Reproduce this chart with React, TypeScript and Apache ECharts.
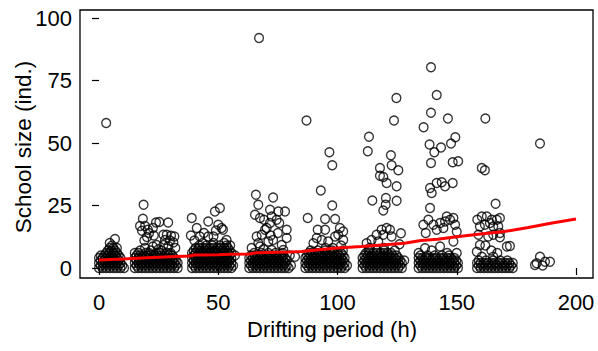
import React, { useEffect, useRef } from "react";
import * as echarts from "echarts";

// x: drifting period (h), y: school size (ind.)
// Dense low-value groups, stored as rows: [schoolSize, period1, period2, ...]
const rowsA: number[][] = [
  [0, 0, 1.5, 3, 4.5, 6, 7.5, 9, 10.5],
  [1, 0.75, 2.25, 3.75, 5.25, 6.75, 8.25, 9.75],
  [2, 0, 1.5, 3, 4.5, 6, 7.5, 9],
  [3, 0.75, 2.25, 3.75, 5.25, 6.75, 8.25],
  [4, 0, 1.5, 3, 4.5, 6, 7.5, 9],
  [5, 0.75, 2.25, 3.75, 5.25, 6.75, 8.25],
  [6, 3, 4.5, 6, 7.5],
  [7, 3.75, 5.25, 6.75],
  [8, 4.5, 6, 7.5],
  [9, 5.5],
  [10, 4.5],
];
const rowsB: number[][] = [
  [0, 15, 16.5, 18, 19.5, 21, 22.5, 24, 25.5, 27, 28.5, 30, 31.5, 33],
  [1, 15.75, 17.25, 18.75, 20.25, 21.75, 23.25, 24.75, 26.25, 27.75, 29.25, 30.75, 32.25],
  [2, 15, 16.5, 18, 19.5, 21, 22.5, 24, 25.5, 27, 28.5, 30, 31.5, 33],
  [3, 15.75, 17.25, 18.75, 20.25, 21.75, 23.25, 24.75, 26.25, 27.75, 29.25, 30.75, 32.25],
  [4, 15, 16.5, 18, 19.5, 21, 22.5, 24, 25.5, 27, 28.5, 30, 31.5],
  [5, 15.75, 17.25, 18.75, 20.25, 21.75, 23.25, 24.75, 26.25, 27.75, 29.25, 30.75],
  [6, 15, 16.5, 19.5, 21, 24, 25.5, 28.5, 30],
  [7, 17.25, 21.75, 26.25],
];
const rowsC: number[][] = [
  [0, 39, 40.5, 42, 43.5, 45, 46.5, 48, 49.5, 51, 52.5, 54, 55.5],
  [1, 39.75, 41.25, 42.75, 44.25, 45.75, 47.25, 48.75, 50.25, 51.75, 53.25, 54.75, 56.25],
  [2, 39, 40.5, 42, 43.5, 45, 46.5, 48, 49.5, 51, 52.5, 54, 55.5],
  [3, 39.75, 41.25, 42.75, 44.25, 45.75, 47.25, 48.75, 50.25, 51.75, 53.25, 54.75],
  [4, 39, 40.5, 42, 43.5, 45, 46.5, 48, 49.5, 51, 52.5, 54, 55.5],
  [5, 39.75, 41.25, 42.75, 44.25, 45.75, 47.25, 48.75, 50.25, 51.75, 53.25, 54.75, 57],
  [6, 39, 40.5, 42, 43.5, 45, 46.5, 48, 49.5, 51, 52.5, 54, 55.5],
  [7, 39.75, 41.25, 42.75, 44.25, 45.75, 47.25, 48.75, 50.25, 51.75, 53.25, 54.75],
  [8, 40.5, 42, 43.5, 45, 46.5, 48, 49.5, 51, 52.5, 54],
  [9, 42, 45, 47.5, 50.5, 53.5, 55],
  [10, 43.5, 48, 52.5],
];
const rowsD: number[][] = [
  [0, 63, 64.5, 66, 67.5, 69, 70.5, 72, 73.5, 75, 76.5, 78, 79.5],
  [1, 63.75, 65.25, 66.75, 68.25, 69.75, 71.25, 72.75, 74.25, 75.75, 77.25, 78.75, 80.5],
  [2, 63, 64.5, 66, 67.5, 69, 70.5, 72, 73.5, 75, 76.5, 78],
  [3, 63.75, 65.25, 66.75, 68.25, 69.75, 71.25, 72.75, 74.25, 75.75, 77.25, 78.75],
  [4, 63, 64.5, 66, 67.5, 69, 70.5, 72, 73.5, 75, 76.5, 78],
  [5, 63.75, 65.25, 66.75, 68.25, 69.75, 71.25, 72.75, 74.25, 75.75, 77.25, 80],
  [6, 65, 68, 71, 74, 77],
];
const rowsE: number[][] = [
  [0, 86.5, 88, 89.5, 91, 92.5, 94, 95.5, 97, 98.5, 100, 101.5, 103],
  [1, 87.25, 88.75, 90.25, 91.75, 93.25, 94.75, 96.25, 97.75, 99.25, 100.75, 102.25, 104],
  [2, 86.5, 88, 89.5, 91, 92.5, 94, 95.5, 97, 98.5, 100, 101.5, 103],
  [3, 87.25, 88.75, 90.25, 91.75, 93.25, 94.75, 96.25, 97.75, 99.25, 100.75, 102.25],
  [4, 86.5, 88, 89.5, 91, 92.5, 94, 95.5, 97, 98.5, 100, 101.5, 103],
  [5, 87.25, 88.75, 90.25, 91.75, 93.25, 94.75, 96.25, 97.75, 99.25, 100.75, 102.25],
  [6, 88, 89.5, 91, 92.5, 94, 95.5, 97, 98.5, 100, 101.5],
  [7, 88.75, 91.75, 94.75, 97.75, 102.25],
  [8, 95, 98],
];
const rowsF: number[][] = [
  [0, 110.5, 112, 113.5, 115, 116.5, 118, 119.5, 121, 122.5, 124, 125.5, 127],
  [1, 111.25, 112.75, 114.25, 115.75, 117.25, 118.75, 120.25, 121.75, 123.25, 124.75, 126.25],
  [2, 110.5, 112, 113.5, 115, 116.5, 118, 119.5, 121, 122.5, 124, 125.5, 127],
  [3, 111.25, 112.75, 114.25, 115.75, 117.25, 118.75, 120.25, 121.75, 123.25, 124.75, 126.25, 128],
  [4, 110.5, 112, 113.5, 115, 116.5, 118, 119.5, 121, 122.5, 124, 125.5],
  [5, 111.25, 112.75, 114.25, 115.75, 117.25, 118.75, 120.25, 121.75, 123.25, 124.75],
  [6, 112, 113.5, 115, 116.5, 118, 119.5, 121, 122.5],
  [7, 113, 116.5, 119.5, 124],
  [8, 113.5, 119.5],
];
const rowsG: number[][] = [
  [0, 134, 135.5, 137, 138.5, 140, 141.5, 143, 144.5, 146, 147.5, 149, 150.5],
  [1, 134.75, 136.25, 137.75, 139.25, 140.75, 142.25, 143.75, 145.25, 146.75, 148.25, 149.75],
  [2, 134, 135.5, 137, 138.5, 140, 141.5, 143, 144.5, 146, 147.5, 149, 150.5],
  [3, 134.75, 136.25, 137.75, 139.25, 140.75, 142.25, 143.75, 145.25, 146.75, 148.25, 149.75],
  [4, 134, 135.5, 137, 138.5, 140, 141.5, 143, 144.5, 146, 147.5, 149],
  [5, 134.75, 137.75, 140.75, 143.75, 146.75],
  [6, 134, 146, 150],
  [7, 139.5],
];
const rowsH: number[][] = [
  [0, 158.5, 160, 161.5, 163, 164.5, 166, 167.5, 169, 170.5, 172, 173.5],
  [1, 159.25, 160.75, 162.25, 163.75, 165.25, 166.75, 168.25, 169.75, 171.25, 172.75],
  [2, 158.5, 160, 161.5, 163, 164.5, 166, 167.5, 169, 170.5, 172, 173.5],
  [3, 159.25, 162.25, 165.25, 168.25, 171.25],
];

// Scattered (higher) values, stored as [period, schoolSize]
const upperA: number[][] = [[6.7, 11.6], [3, 58]];
const upperB: number[][] = [
  [18.7, 25.3], [18.4, 19.7], [23.9, 18.2], [25.3, 18.4], [29, 18.2], [17.2, 16.8], [19.3, 16.8],
  [18, 14.9], [20.5, 15.3], [22.6, 16], [20.1, 12.4], [21, 14], [23, 13], [19, 11], [27, 13.3],
  [28.4, 13.3], [30.2, 12.9], [31.6, 12.6], [27.7, 11.2], [29.8, 11], [31.2, 10.2], [27, 9.2],
  [29.1, 8.8], [22.6, 8.6], [24.2, 9.2], [19.3, 8], [25, 7.5], [32, 8],
];
const upperC: number[][] = [
  [38.9, 20], [41, 16], [45.8, 18.6], [48.6, 22.6], [50.7, 24], [50, 17.3], [51.4, 16], [52, 15.3],
  [45.8, 12.6], [48, 12.6], [53.5, 11.2], [42.3, 12.6], [44, 14], [38.5, 13], [40, 11], [49, 15],
];
const upperD: number[][] = [
  [67.1, 92], [65.8, 29.3], [73, 28.2], [66.8, 25.3], [71.7, 23.3], [75.2, 22.6], [78, 22.6],
  [65.4, 21.3], [67.5, 20], [69.2, 19.3], [72.4, 20.6], [74.5, 19.3], [71.7, 18], [75.6, 18],
  [70.3, 16], [69.6, 15.3], [78.7, 15.3], [75, 14], [72, 13], [66.1, 12.6], [68.2, 13.3],
  [78.7, 12], [66.8, 9.9], [67.5, 8.6], [71, 10.6], [73, 11.2], [76.6, 9.2], [77.3, 7.2],
  [72.4, 7.2], [64, 8], [69, 7.5],
];
const upperE: number[][] = [
  [87, 59], [96.6, 46.3], [97.8, 41.1], [93, 31], [97.8, 25], [87.5, 20], [94.8, 19.6], [99, 19.6],
  [91.7, 15.3], [94.8, 15.3], [101, 16], [102.4, 14.6], [100.3, 13.3], [102.4, 11.2], [99, 12.6],
  [91.3, 12], [93.4, 11.2], [96.1, 10.6], [89.9, 9.9], [101.5, 9], [82.2, 4.5],
];
const upperF: number[][] = [
  [113.2, 52.5], [112.7, 46.7], [123.7, 59], [124.7, 68], [122.4, 45.1], [122.7, 41.1], [125.5, 39.1],
  [117.8, 40], [117.8, 36.9], [119.2, 36.4], [120.6, 34], [124.8, 32.7], [114.6, 27], [120.3, 28],
  [120.2, 25.3], [119.2, 23], [124.8, 26.9], [126.6, 13.9], [116.4, 13.3], [118.5, 15.3], [120.6, 16],
  [122, 15.3], [119.2, 13.3], [122.7, 12.6], [112.2, 9.9], [114.3, 11.2], [117.1, 10.6], [126, 9.5],
];
const upperG: number[][] = [
  [139.2, 80.3], [141.6, 69.2], [139.2, 62.1], [146.3, 59.8], [136.1, 56.3], [149.4, 52.3], [147.6, 49.8],
  [138.6, 49.4], [143.4, 48.2], [140.6, 46.3], [139.2, 42], [148.3, 42.3], [150.6, 42.7], [138.8, 32],
  [139.5, 30], [141.6, 34], [143.7, 34.3], [145.1, 32.7], [148.3, 34], [138.8, 24], [136, 17.3],
  [138.1, 19.3], [140.2, 17.3], [141.6, 15.3], [143, 18], [145.1, 18.6], [145.8, 20.6], [147.2, 19.3],
  [148.6, 20], [149.3, 17.3], [144.4, 16], [137, 14], [150, 14.5], [136.7, 7.9], [143, 8.6], [148.6, 10.6],
];
const upperH: number[][] = [
  [162, 59.8], [160.5, 40], [161.8, 39.1], [166.3, 25.7], [158.6, 19.3], [160.5, 20.6], [162.6, 20.6],
  [164.7, 19.3], [166.8, 19.3], [168.1, 20], [159.7, 16.6], [161.8, 17.3], [163.9, 18], [165.3, 16.6],
  [167.4, 16.6], [163.2, 12.6], [165.3, 13.3], [168.1, 14], [159.1, 13.3], [168.1, 12.3], [159.7, 9.2],
  [158.4, 6.5], [160.5, 4.5], [171, 8.6], [172.3, 8.8], [164.5, 7], [165.3, 4.5], [162, 9], [167, 6],
];
const upperI: number[][] = [
  [184.9, 49.8], [184.9, 4.5], [183.5, 1.9], [187, 2.5], [189.1, 2.5], [182.8, 1.2], [186, 1],
];

// smoothed fit (red line)
const fitX = [0, 10, 20, 30, 38, 40, 50, 55, 63, 66, 80, 85, 90, 100, 110, 120, 128, 135, 142, 150, 160, 170, 180, 190, 200];
const fitY = [3.2, 3.6, 4.1, 4.5, 4.8, 5.2, 5.3, 5.5, 5.6, 6.1, 6.4, 6.6, 7.1, 8, 8.6, 9.3, 9.9, 11, 11.5, 12.5, 13.6, 14.6, 16.2, 18, 19.6];

const xTicks = [0, 50, 100, 150, 200];
const yTicks = [0, 25, 50, 75, 100];

const FONT = "'Liberation Sans', Arial, Helvetica, sans-serif";

const fromRows = (rows: number[][]) =>
  rows.flatMap((r) => r.slice(1).map((x) => [x, r[0]]));

export default function App() {
  const ref = useRef<HTMLDivElement>(null);
  useEffect(() => {
    if (!ref.current) return;
    const chart = echarts.init(ref.current, undefined, { renderer: "svg" });
    const points = [
      ...fromRows(rowsA), ...fromRows(rowsB), ...fromRows(rowsC), ...fromRows(rowsD),
      ...fromRows(rowsE), ...fromRows(rowsF), ...fromRows(rowsG), ...fromRows(rowsH),
      ...upperA, ...upperB, ...upperC, ...upperD, ...upperE, ...upperF, ...upperG, ...upperH, ...upperI,
    ];
    const fit = fitX.map((x, i) => [x, fitY[i]]);
    chart.setOption({
      animation: false,
      backgroundColor: "#ffffff",
      grid: { left: 99, right: 22, top: 18, bottom: 83 },
      xAxis: {
        type: "value",
        min: xTicks[0],
        max: xTicks[xTicks.length - 1],
        interval: 50,
        offset: 10,
        axisLine: { show: false },
        axisTick: { show: true, length: 7, lineStyle: { color: "#000", width: 1.2 } },
        axisLabel: { fontSize: 22, fontFamily: FONT, color: "#000", margin: 13 },
        splitLine: { show: false },
      },
      yAxis: {
        type: "value",
        min: yTicks[0],
        max: yTicks[yTicks.length - 1],
        interval: 25,
        offset: 19,
        axisLine: { show: false },
        axisTick: { show: true, length: 7, lineStyle: { color: "#000", width: 1.2 } },
        axisLabel: { fontSize: 22, fontFamily: FONT, color: "#000", margin: 8 },
        splitLine: { show: false },
      },
      graphic: [
        {
          type: "rect",
          shape: { x: 80, y: 10, width: 513, height: 268 },
          style: { fill: "none", stroke: "#000", lineWidth: 1.3 },
          silent: true,
          z: 10,
        },
        {
          type: "text",
          x: 23,
          y: 147,
          rotation: Math.PI / 2,
          style: {
            text: "School size (ind.)",
            fontSize: 22.5,
            fontFamily: FONT,
            fill: "#000",
            align: "center",
            verticalAlign: "middle",
          },
        },
        {
          type: "text",
          x: 332,
          y: 329,
          style: {
            text: "Drifting period (h)",
            fontSize: 22,
            fontFamily: FONT,
            fill: "#000",
            align: "center",
            verticalAlign: "middle",
          },
        },
      ],
      series: [
        {
          type: "scatter",
          data: points,
          symbol: "circle",
          symbolSize: 8.8,
          clip: false,
          itemStyle: { color: "rgba(0,0,0,0)", borderColor: "#000", borderWidth: 1.35 },
          emphasis: { disabled: true },
        },
        {
          type: "line",
          data: fit,
          showSymbol: false,
          symbol: "none",
          clip: false,
          lineStyle: { color: "#ff0000", width: 3 },
          emphasis: { disabled: true },
        },
      ],
    });
    return () => chart.dispose();
  }, []);
  return <div ref={ref} style={{ position: "fixed", left: 0, top: 0, width: 598, height: 351 }} />;
}
